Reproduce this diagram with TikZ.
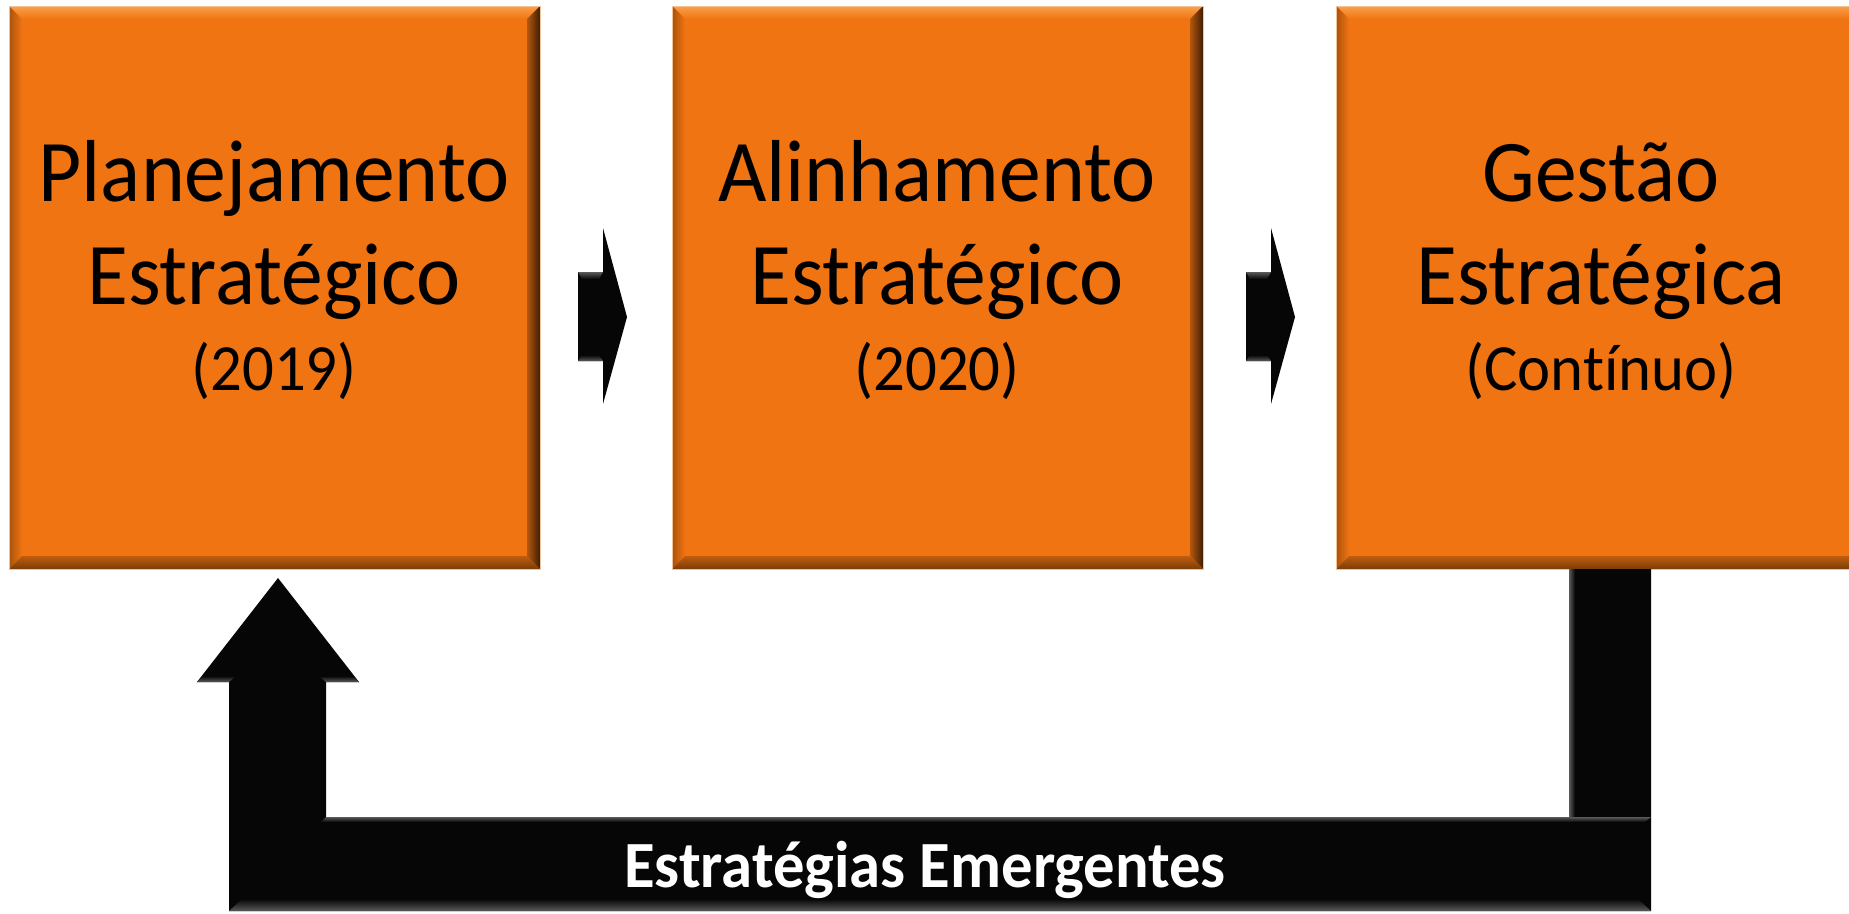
\documentclass[tikz,border=0pt]{standalone}
\usepackage{fontspec}
\setmainfont{Carlito}[FakeStretch=0.95, Ligatures={NoCommon}]
\usetikzlibrary{calc}
\definecolor{orng}{HTML}{F07412}
\definecolor{bevtop}{HTML}{FBA04A}
\definecolor{bevleft}{HTML}{A9520C}
\definecolor{bevright}{HTML}{3E1E04}
\definecolor{bevbot}{HTML}{7A3C08}
\definecolor{peach}{HTML}{F2C29A}
\definecolor{blk}{HTML}{060606}
\definecolor{bgrey}{HTML}{5A5A5A}
\tikzset{
  obox/.style={fill=orng, draw=peach, line width=1pt, minimum width=530pt, minimum height=562pt, anchor=north west, inner sep=0pt},
  bigtxt/.style={anchor=base, inner sep=0pt, font=\fontsize{88}{100}\selectfont},
  smalltxt/.style={anchor=base, inner sep=0pt, font=\fontsize{66}{76}\selectfont},
  bartxt/.style={anchor=base, inner sep=0pt, text=white, font=\fontsize{66}{76}\selectfont\bfseries},
  blockarrow/.style={fill=blk},
}
\newcommand\bevelbox[1]{%
  \shade[top color=bevtop, bottom color=orng] (#1.north west) -- (#1.north east) -- ($(#1.north east)+(-13,13)$) -- ($(#1.north west)+(13,13)$) -- cycle;
  \shade[left color=bevleft, right color=orng] (#1.north west) -- (#1.south west) -- ($(#1.south west)+(13,-13)$) -- ($(#1.north west)+(13,13)$) -- cycle;
  \shade[left color=orng!75!black, right color=bevright] (#1.north east) -- (#1.south east) -- ($(#1.south east)+(-13,-13)$) -- ($(#1.north east)+(-13,13)$) -- cycle;
  \shade[top color=orng!80!black, bottom color=bevbot] (#1.south west) -- (#1.south east) -- ($(#1.south east)+(-13,-13)$) -- ($(#1.south west)+(13,-13)$) -- cycle;
  \draw[peach, line width=1pt] (#1.north west) rectangle (#1.south east);
}
\begin{document}
\begin{tikzpicture}[x=1pt,y=-1pt]
\useasboundingbox (0,0) rectangle (1849,913);
\clip (0,0) rectangle (1849,913);
\fill[white] (0,0) rectangle (1849,913);

% boxes
\node[obox] (b1) at (9,6) {};
\node[obox] (b2) at (672,6) {};
\node[obox] (b3) at (1336,6) {};
\bevelbox{b1}
\bevelbox{b2}
\bevelbox{b3}

% box texts
\node[bigtxt] (t1a) at (274,201) {Planejamento};
\node[bigtxt] (t1b) at (274,304) {Estratégico};
\node[smalltxt] (t1c) at (274,390) {(2019)};
\node[bigtxt] (t2a) at (937,201) {Alinhamento};
\node[bigtxt] (t2b) at (937,304) {Estratégico};
\node[smalltxt] (t2c) at (937,390) {(2020)};
\node[bigtxt] (t3a) at (1601,201) {Gestão};
\node[bigtxt] (t3b) at (1601,304) {Estratégica};
\node[smalltxt] (t3c) at (1601,390) {(Contínuo)};

% small arrows between boxes
\coordinate (a1) at ($(b1.north east)+(38,266)$);
\coordinate (a2) at ($(b2.north east)+(43,266)$);
\foreach \c in {a1,a2}{
  \fill[blockarrow] (\c) -- ++(25,0) -- ++(0,-44) -- ++(24,89) -- ++(-24,87) -- ++(0,-43) -- ++(-25,0) -- cycle;
  \shade[top color=bgrey, bottom color=blk] (\c) -- ++(25,0) -- ++(-4,7) -- ++(-17,0) -- cycle;
  \shade[top color=blk, bottom color=bgrey] ($(\c)+(0,89)$) -- ++(25,0) -- ++(-4,-6) -- ++(-17,0) -- cycle;
}

% feedback arrow from Gestão back to Planejamento
\coordinate (fs) at ($(b3.south west)+(233,0)$);
\coordinate (ft) at ($(b1.south west)+(269,9)$);
\fill[blockarrow] (fs) -- ++(82,0) -- (1651,911) -- (229,911) -- (229,682) -- (197,682) -- (ft) -- (359,682) -- (326,682) -- (326,817) -- (1569,817) -- cycle;
% bevel highlights
\shade[top color=blk, bottom color=bgrey] (242,899) -- (1638,899) -- (1651,911) -- (229,911) -- cycle;
\shade[left color=bgrey, right color=blk] (1569,569) -- (1575,569) -- (1575,817) -- (1569,817) -- cycle;
\shade[top color=blk, bottom color=bgrey] (197,682) -- (229,682) -- (236,676) -- (203,676) -- cycle;
\shade[top color=blk, bottom color=bgrey] (326,682) -- (359,682) -- (353,676) -- (319,676) -- cycle;
\shade[top color=bgrey, bottom color=blk] (326,817) -- (1651,817) -- (1645,822) -- (321,822) -- cycle;

\node[bartxt] (lbl) at (925,887) {Estratégias Emergentes};
\end{tikzpicture}
\end{document}
